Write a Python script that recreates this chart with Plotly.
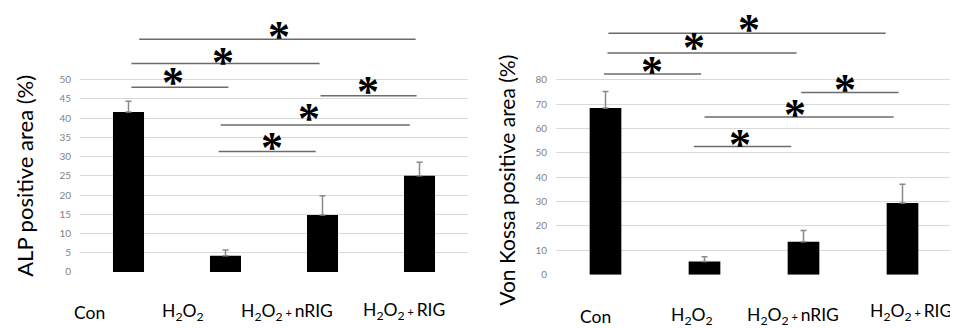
import plotly.graph_objects as go

# ---------------- data ----------------
categories = ["Con", "H2O2", "H2O2 + nRIG", "H2O2 + RIG"]
tick_labels = ["Con", "H<sub>2</sub>O<sub>2</sub>",
               "H<sub>2</sub>O<sub>2</sub><span style='font-size:11px'> + </span>nRIG",
               "H<sub>2</sub>O<sub>2</sub><span style='font-size:11px'> + </span>RIG"]

alp_values = [41.6, 4.2, 14.8, 25.0]
alp_errors = [2.8, 1.5, 5.0, 3.5]

vk_values = [68.5, 5.4, 13.5, 29.4]
vk_errors = [6.7, 2.0, 4.6, 7.7]

alp_ticks = [0, 5, 10, 15, 20, 25, 30, 35, 40, 45, 50]
vk_ticks = [0, 10, 20, 30, 40, 50, 60, 70, 80]

# significance brackets: (x_start, x_end, y_level) in axis units; asterisk (x, y)
alp_brackets = [(0.11, 2.96, 60.5), (0.03, 1.97, 54.2), (0.03, 1.03, 48.0),
                (1.98, 2.97, 45.8), (0.95, 2.90, 38.2), (0.93, 1.93, 31.3)]
alp_stars = [(1.55, 63.0), (0.97, 56.4), (0.46, 51.0),
             (2.47, 48.8), (1.86, 41.6), (1.48, 34.1)]
vk_brackets = [(0.03, 2.83, 99.2), (0.02, 1.93, 91.1), (-0.015, 0.966, 82.4),
               (1.977, 2.96, 74.8), (1.0, 2.91, 64.8), (0.892, 1.876, 52.7)]
vk_stars = [(1.45, 103.4), (0.89, 96.1), (0.47, 86.2),
            (2.42, 78.9), (1.91, 68.7), (1.36, 56.3)]

# page body margin offsets the figure inside the window
W, H = 950, 322
OFFX, OFFY = 8, 4
FONT = "Lato"


def px(x):
    return (x - OFFX) / W


def py(y):
    return 1 - (y - OFFY) / H


fig = go.Figure()

fig.add_trace(go.Bar(
    x=categories, y=alp_values, xaxis="x", yaxis="y",
    marker=dict(color="black", line=dict(width=0)), width=0.32,
    error_y=dict(type="data", array=alp_errors, arrayminus=[0] * 4, symmetric=False,
                 color="#8a8a8a", thickness=1.5, width=3),
    showlegend=False))

fig.add_trace(go.Bar(
    x=categories, y=vk_values, xaxis="x2", yaxis="y2",
    marker=dict(color="black", line=dict(width=0)), width=0.32,
    error_y=dict(type="data", array=vk_errors, arrayminus=[0] * 4, symmetric=False,
                 color="#8a8a8a", thickness=1.5, width=3),
    showlegend=False))

shapes = []
annotations = []

for (x0, x1, yv) in alp_brackets:
    shapes.append(dict(type="line", xref="x", yref="y", x0=x0, x1=x1, y0=yv, y1=yv,
                       line=dict(color="#6b6b6b", width=1.5)))
for (x0, x1, yv) in vk_brackets:
    shapes.append(dict(type="line", xref="x2", yref="y2", x0=x0, x1=x1, y0=yv, y1=yv,
                       line=dict(color="#6b6b6b", width=1.5)))

star_font = dict(family="Liberation Serif", size=44, color="black")
for (xs, ys) in alp_stars:
    annotations.append(dict(x=xs, y=ys, xref="x", yref="y", text="<b>*</b>",
                            showarrow=False, yanchor="middle", yshift=-7, font=star_font))
for (xs, ys) in vk_stars:
    annotations.append(dict(x=xs, y=ys, xref="x2", yref="y2", text="<b>*</b>",
                            showarrow=False, yanchor="middle", yshift=-7, font=star_font))

# category labels (placed like the original, slightly offset from bars)
left_label_px = [(89, 314), (183, 314), (287, 314), (404, 313)]
right_label_px = [(595, 318), (692, 318), (793, 318), (911, 314)]
for lab, (xx, yy) in zip(tick_labels, left_label_px):
    annotations.append(dict(x=px(xx), y=py(yy), xref="paper", yref="paper", text=lab,
                            showarrow=False, xanchor="center", yanchor="middle",
                            font=dict(family=FONT, size=17.5, color="black")))
for lab, (xx, yy) in zip(tick_labels, right_label_px):
    annotations.append(dict(x=px(xx), y=py(yy), xref="paper", yref="paper", text=lab,
                            showarrow=False, xanchor="center", yanchor="middle",
                            font=dict(family=FONT, size=17.5, color="black")))

# y-axis titles
annotations.append(dict(x=px(25), y=py(175), xref="paper", yref="paper",
                        text="ALP positive area (%)", textangle=-90, showarrow=False,
                        xanchor="center", yanchor="middle",
                        font=dict(family=FONT, size=22, color="black")))
annotations.append(dict(x=px(507), y=py(180), xref="paper", yref="paper",
                        text="Von Kossa positive area (%)", textangle=-90, showarrow=False,
                        xanchor="center", yanchor="middle",
                        font=dict(family=FONT, size=21, color="black")))

axis_common = dict(showgrid=False, showline=False, zeroline=False, ticks="",
                   showticklabels=False, type="category", range=[-0.5, 3.5],
                   categoryorder="array", categoryarray=categories)
yaxis_common = dict(showgrid=True, gridcolor="#d9d9d9", gridwidth=1, zeroline=False,
                    showline=False, ticks="", tickfont=dict(family=FONT, size=10, color="#7f7f7f"),
                    ticklabelstandoff=8)

fig.update_layout(
    width=W, height=H,
    margin=dict(l=0, r=0, t=0, b=0),
    paper_bgcolor="white", plot_bgcolor="white",
    xaxis=dict(domain=[px(80), px(468)], anchor="y", **axis_common),
    yaxis=dict(domain=[py(273), py(16)], range=[0, 257 / 3.92], tickvals=alp_ticks,
               anchor="x", **yaxis_common),
    xaxis2=dict(domain=[px(556), px(952)], anchor="y2", **axis_common),
    yaxis2=dict(domain=[py(275.7), py(12)], range=[0, 263.7 / 2.48], tickvals=vk_ticks,
                anchor="x2", **yaxis_common),
    shapes=shapes, annotations=annotations, bargap=0.68,
)

fig.write_html("out.html")
